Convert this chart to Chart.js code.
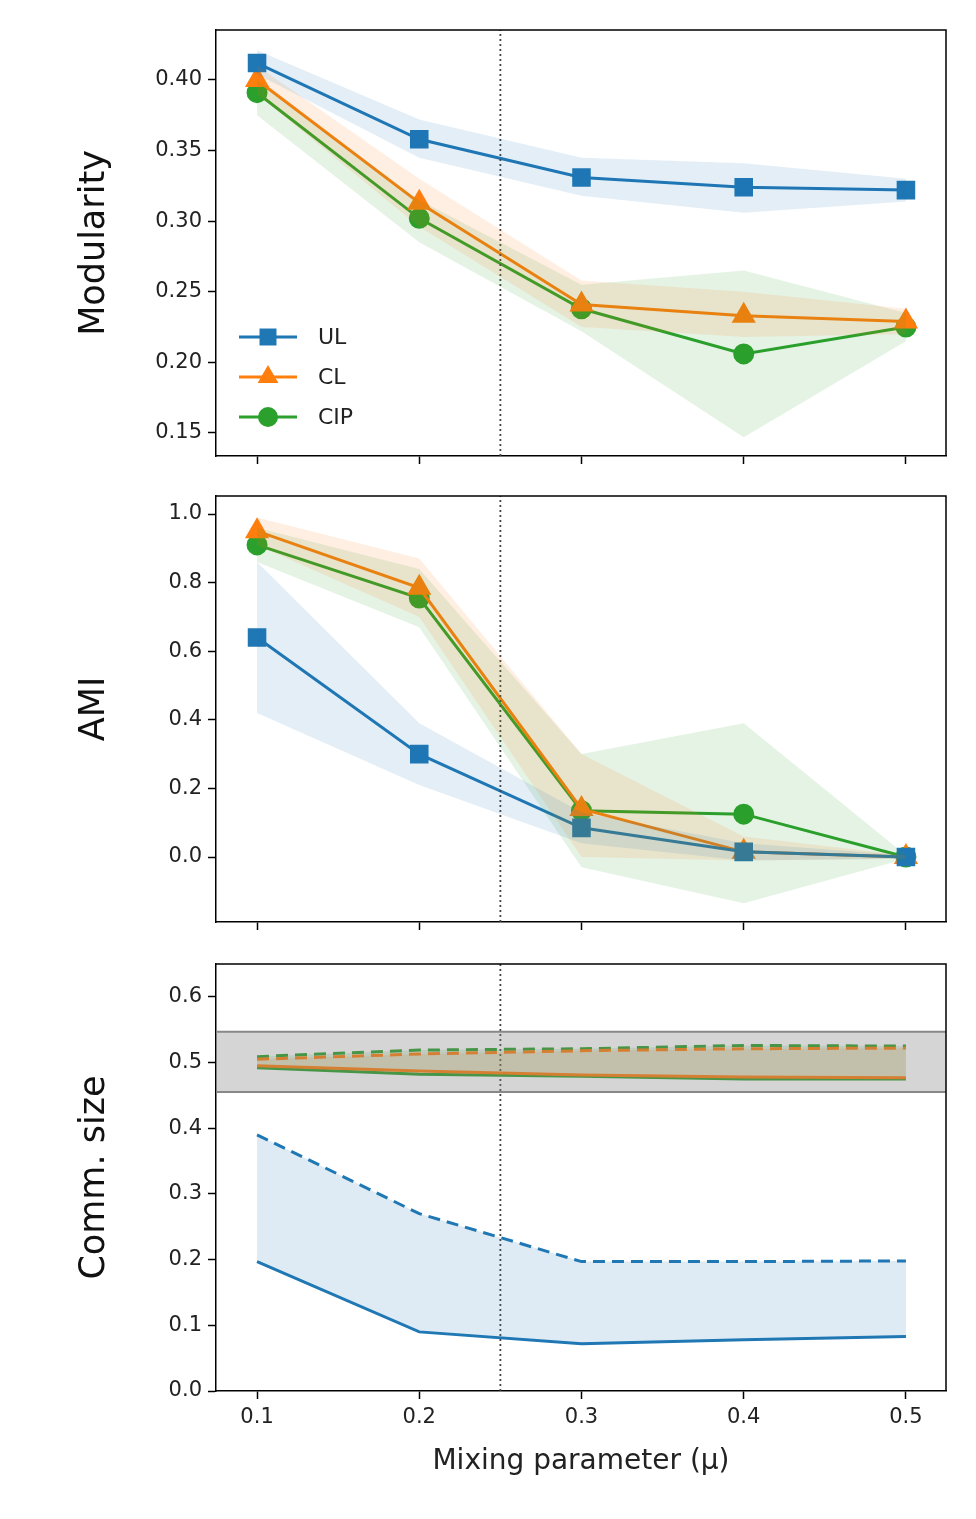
<!DOCTYPE html>
<html><head><meta charset="utf-8">
<script src="https://cdn.jsdelivr.net/npm/chart.js@4/dist/chart.umd.min.js"></script>
<style>
body{margin:0;background:#fff;width:976px;height:1519px;position:relative;overflow:hidden}
.box{position:absolute;left:0;width:976px}
</style></head><body>
<div class="box" style="top:0;height:480px"><canvas id="c1"></canvas></div>
<div class="box" style="top:466px;height:480px"><canvas id="c2"></canvas></div>
<div class="box" style="top:934px;height:585px"><canvas id="c3"></canvas></div>
<script>
const mu = [0.1, 0.2, 0.3, 0.4, 0.5];
const xTicks = [0.1, 0.2, 0.3, 0.4, 0.5];

// Modularity
const modUL = [0.412, 0.358, 0.331, 0.324, 0.322];
const modULhi = [0.421, 0.372, 0.345, 0.341, 0.330];
const modULlo = [0.404, 0.345, 0.318, 0.306, 0.314];
const modCL = [0.400, 0.313, 0.241, 0.233, 0.229];
const modCLhi = [0.410, 0.330, 0.258, 0.250, 0.238];
const modCLlo = [0.390, 0.296, 0.225, 0.218, 0.220];
const modCIP = [0.391, 0.302, 0.238, 0.206, 0.225];
const modCIPhi = [0.400, 0.315, 0.255, 0.265, 0.235];
const modCIPlo = [0.375, 0.285, 0.222, 0.147, 0.215];
const modTicks = [0.15, 0.20, 0.25, 0.30, 0.35, 0.40];

// AMI
const amiUL = [0.64, 0.30, 0.085, 0.015, 0.0];
const amiULhi = [0.86, 0.39, 0.13, 0.04, 0.005];
const amiULlo = [0.42, 0.21, 0.04, -0.01, -0.005];
const amiCL = [0.95, 0.785, 0.14, 0.015, 0.0];
const amiCLhi = [0.99, 0.87, 0.30, 0.06, 0.005];
const amiCLlo = [0.91, 0.70, 0.0, -0.01, -0.005];
const amiCIP = [0.91, 0.755, 0.135, 0.125, 0.0];
const amiCIPhi = [0.96, 0.84, 0.30, 0.39, 0.005];
const amiCIPlo = [0.86, 0.67, -0.03, -0.135, -0.005];
const amiTicks = [0.0, 0.2, 0.4, 0.6, 0.8, 1.0];

// Community size (solid = lower, dashed = upper)
const sizeULlo = [0.197, 0.090, 0.072, 0.078, 0.083];
const sizeULhi = [0.390, 0.270, 0.197, 0.197, 0.198];
const sizeCLlo = [0.495, 0.487, 0.481, 0.478, 0.477];
const sizeCLhi = [0.505, 0.513, 0.518, 0.521, 0.522];
const sizeCIPlo = [0.492, 0.482, 0.479, 0.475, 0.475];
const sizeCIPhi = [0.509, 0.519, 0.521, 0.526, 0.525];
const refBand = [0.455, 0.547];
const sizeTicks = [0.0, 0.1, 0.2, 0.3, 0.4, 0.5, 0.6];

const blue = '#1f77b4', orange = '#ff7f0e', green = '#2ca02c';
const xr = [0.0747, 0.5247];

function pts(ys) { return ys.map((y, i) => ({x: mu[i], y: y})); }
function band(lo, hi, col) {
  return [
    {data: pts(lo), borderWidth: 0, pointRadius: 0, fill: false, backgroundColor: col},
    {data: pts(hi), borderWidth: 0, pointRadius: 0, fill: '-1', backgroundColor: col}
  ];
}
function marker(ys, col, style, r) {
  return {label: '', data: pts(ys), borderColor: col, backgroundColor: col, borderWidth: 3,
    pointStyle: style, pointRadius: r, pointHoverRadius: r, fill: false};
}
function vline(lo, hi) {
  return {data: [{x: 0.25, y: lo}, {x: 0.25, y: hi}], borderColor: '#444', borderWidth: 1.8,
    borderDash: [2, 3], pointRadius: 0, fill: false};
}

const legendPlugin = {
  id: 'leg',
  afterDraw(chart) {
    if (!chart.options.plugins.leg) return;
    const ctx = chart.ctx;
    const items = [['UL', blue, 'rect', 12], ['CL', orange, 'triangle', 12], ['CIP', green, 'circle', 10]];
    ctx.save();
    items.forEach((it, i) => {
      const y = 337 + i * 40, x0 = 239, x1 = 297;
      ctx.strokeStyle = it[1]; ctx.lineWidth = 3;
      ctx.beginPath(); ctx.moveTo(x0, y); ctx.lineTo(x1, y); ctx.stroke();
      ctx.fillStyle = it[1];
      Chart.helpers.drawPoint(ctx, {pointStyle: it[2], radius: it[3], borderWidth: 0}, (x0 + x1) / 2, y);
      ctx.fillStyle = '#222'; ctx.font = '22px "DejaVu Sans"'; ctx.textBaseline = 'middle';
      ctx.fillText(it[0], 318, y + 1);
    });
    ctx.restore();
  }
};

function makeChart(id, datasets, yr, ticks, yTitle, showX, xH, padB, legend) {
  new Chart(document.getElementById(id), {
    type: 'line',
    data: {datasets: datasets},
    plugins: [legendPlugin],
    options: {
      animation: false, responsive: true, maintainAspectRatio: false,
      layout: {padding: {top: 30, right: 30, left: 74, bottom: padB}},
      plugins: {legend: {display: false}, tooltip: {enabled: false}, leg: legend},
      scales: {
        x: {type: 'linear', min: xr[0], max: xr[1],
          afterBuildTicks: a => { a.ticks = xTicks.map(v => ({value: v})); },
          afterFit: a => { a.height = xH; },
          grid: {drawOnChartArea: false, color: '#000', tickLength: 8, tickWidth: 1.5},
          border: {color: '#000', width: 1.5},
          ticks: {display: showX, color: '#222', font: {size: 21, family: 'DejaVu Sans'}, padding: 6,
            callback: v => v.toFixed(1)},
          title: {display: showX, text: 'Mixing parameter (\u03bc)', color: '#222',
            font: {size: 28, family: 'DejaVu Sans'}, padding: {top: 2}}
        },
        y: {min: yr[0], max: yr[1],
          afterBuildTicks: a => { a.ticks = ticks.map(v => ({value: v})); },
          afterFit: a => { a.width = 142; },
          grid: {drawOnChartArea: false, color: '#000', tickLength: 8, tickWidth: 1.5},
          border: {color: '#000', width: 1.5},
          ticks: {color: '#222', font: {size: 21, family: 'DejaVu Sans'}, padding: 6,
            callback: v => yTitle === 'Modularity' ? v.toFixed(2) : v.toFixed(1)},
          title: {display: true, text: yTitle, color: '#111', font: {size: 35, family: 'DejaVu Sans'}, padding: 0}
        }
      }
    }
  });
}

const frame = {
  id: 'frame',
  afterDraw(chart) {
    const a = chart.chartArea, ctx = chart.ctx;
    ctx.save(); ctx.strokeStyle = '#000'; ctx.lineWidth = 1.5;
    ctx.beginPath(); ctx.moveTo(a.left, a.top); ctx.lineTo(a.right, a.top); ctx.lineTo(a.right, a.bottom); ctx.stroke();
    ctx.restore();
  }
};
Chart.register(frame);

makeChart('c1', [
  ...band(modULlo, modULhi, 'rgba(31,119,180,0.12)'),
  ...band(modCLlo, modCLhi, 'rgba(255,127,14,0.12)'),
  ...band(modCIPlo, modCIPhi, 'rgba(44,160,44,0.12)'),
  vline(0.1337, 0.4354),
  marker(modUL, blue, 'rect', 11),
  marker(modCL, orange, 'triangle', 11),
  marker(modCIP, green, 'circle', 9)
], [0.1337, 0.4354], modTicks, 'Modularity', false, 24, 0, true);

makeChart('c2', [
  ...band(amiULlo, amiULhi, 'rgba(31,119,180,0.12)'),
  ...band(amiCLlo, amiCLhi, 'rgba(255,127,14,0.12)'),
  ...band(amiCIPlo, amiCIPhi, 'rgba(44,160,44,0.12)'),
  vline(-0.1895, 1.0525),
  marker(amiUL, blue, 'rect', 11),
  marker(amiCL, orange, 'triangle', 11),
  marker(amiCIP, green, 'circle', 9)
], [-0.1895, 1.0525], amiTicks, 'AMI', false, 24, 0, false);

function sline(ys, col, dash, fill, bg) {
  return {data: pts(ys), borderColor: col, borderWidth: 3, borderDash: dash, pointRadius: 0,
    fill: fill, backgroundColor: bg};
}
makeChart('c3', [
  {data: [{x: xr[0], y: refBand[0]}, {x: xr[1], y: refBand[0]}], borderColor: '#888', borderWidth: 2, pointRadius: 0, fill: false},
  {data: [{x: xr[0], y: refBand[1]}, {x: xr[1], y: refBand[1]}], borderColor: '#888', borderWidth: 2, pointRadius: 0, fill: '-1', backgroundColor: 'rgba(128,128,128,0.33)'},
  sline(sizeULlo, blue, [], false),
  sline(sizeULhi, blue, [12, 7], '-1', 'rgba(31,119,180,0.15)'),
  sline(sizeCLlo, orange, [], false),
  sline(sizeCLhi, orange, [12, 7], '-1', 'rgba(255,127,14,0.15)'),
  sline(sizeCIPlo, green, [], false),
  sline(sizeCIPhi, green, [12, 7], '-1', 'rgba(44,160,44,0.15)'),
  vline(0, 0.65)
], [0, 0.65], sizeTicks, 'Comm. size', true, 92, 36, false);
</script>
</body></html>
